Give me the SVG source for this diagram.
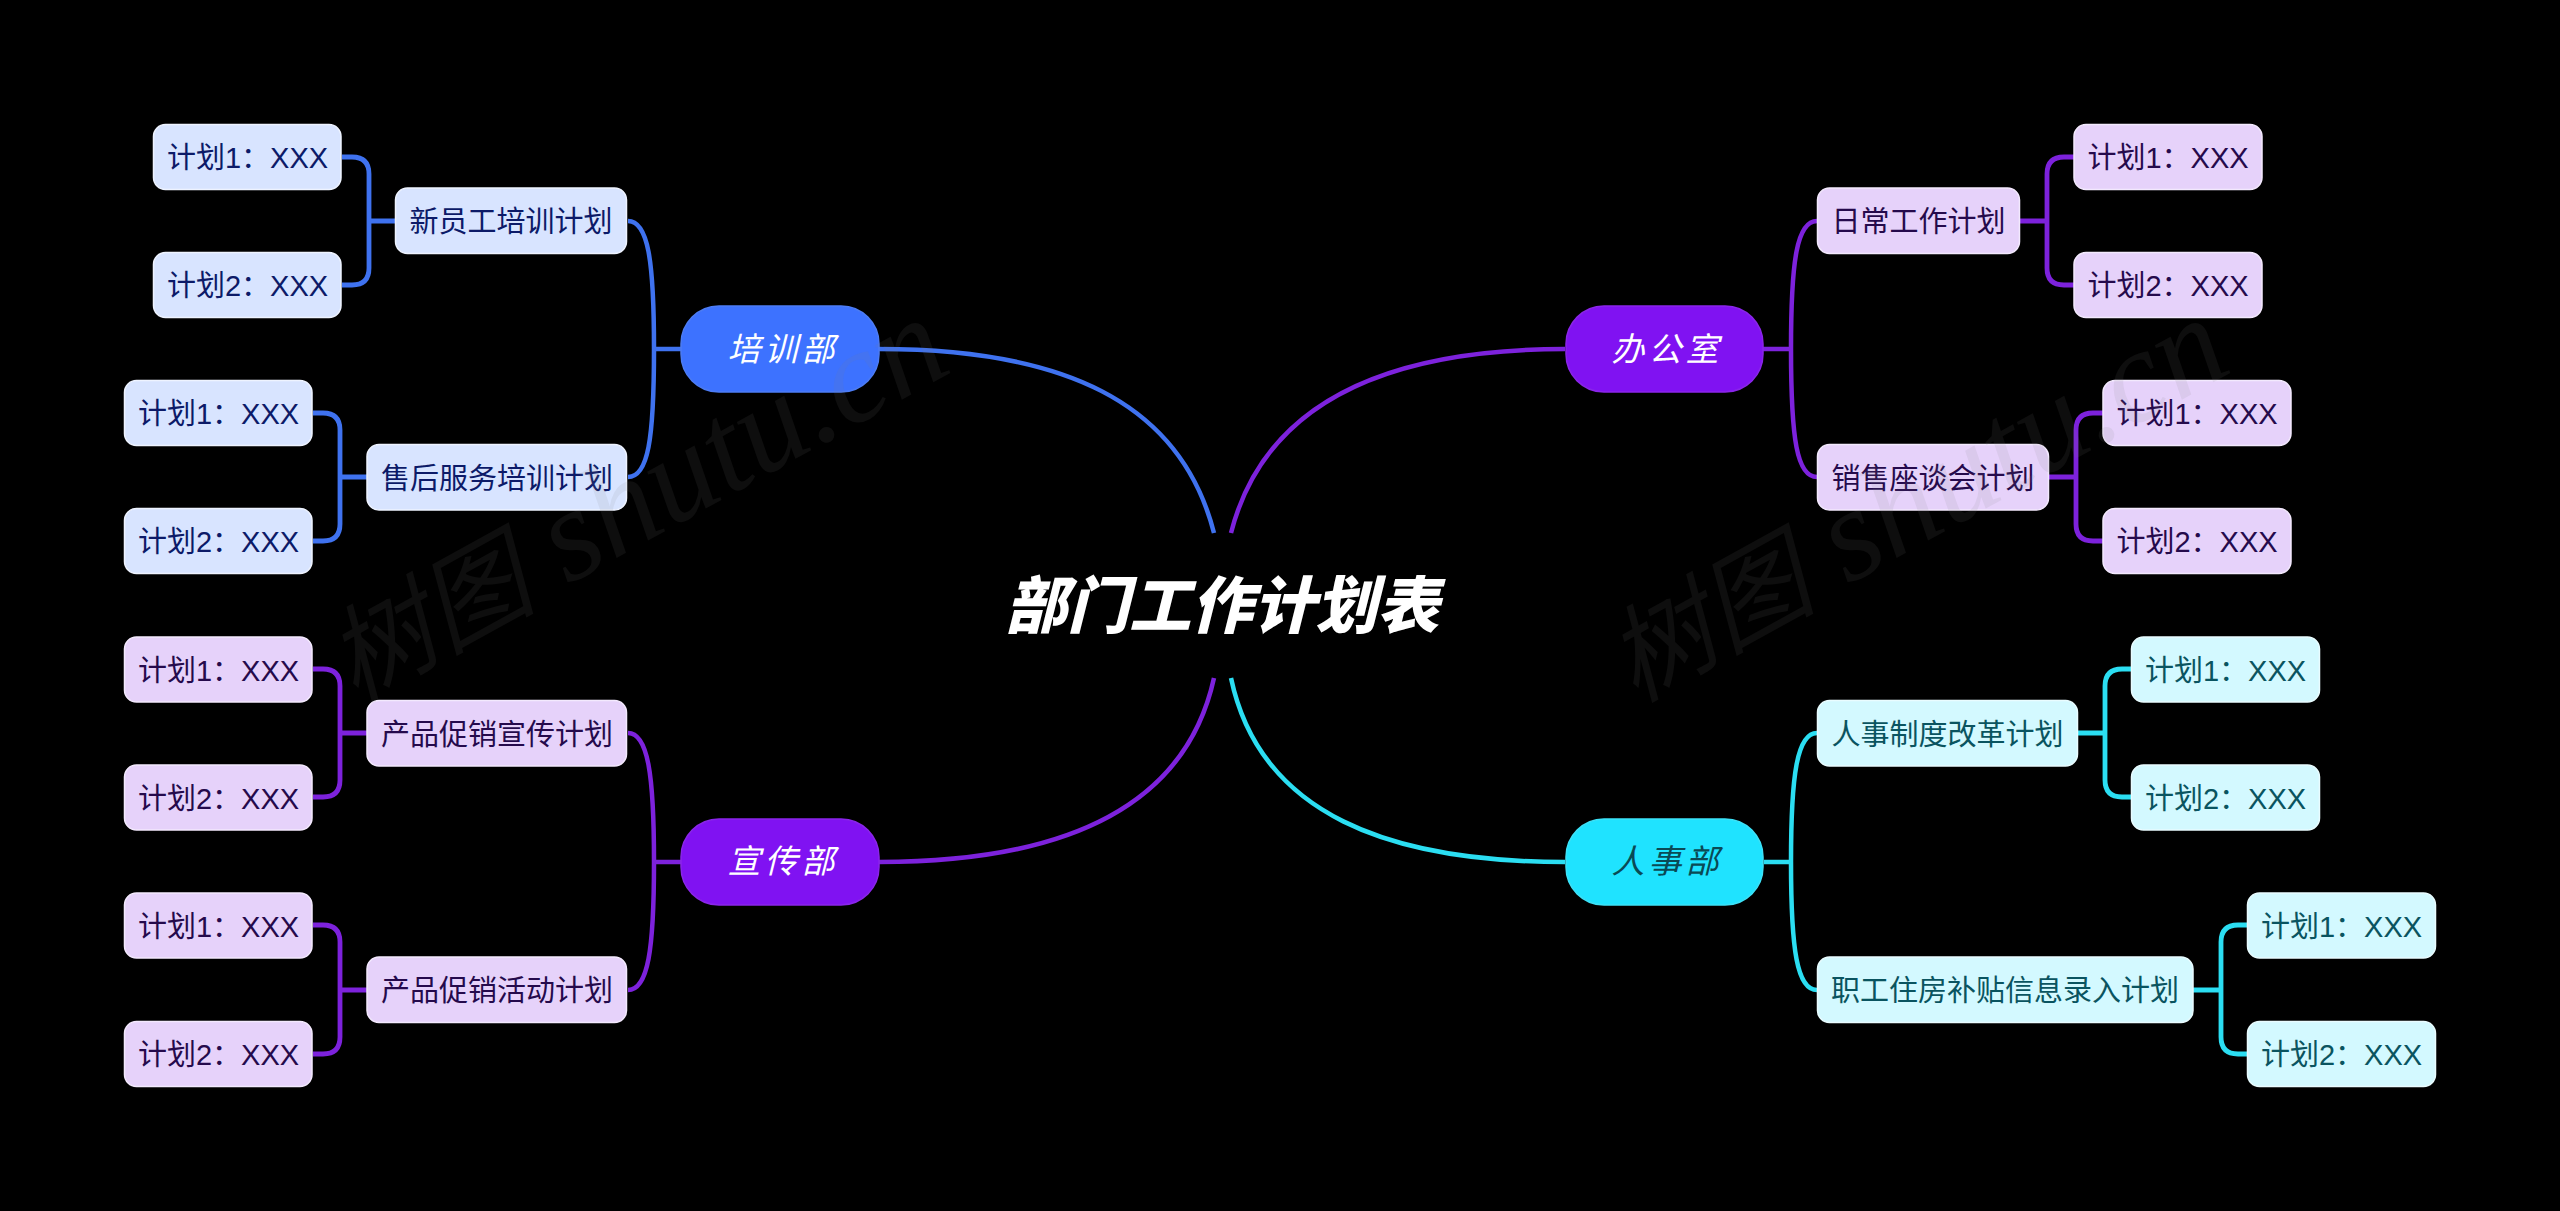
<svg xmlns="http://www.w3.org/2000/svg" width="2560" height="1211" viewBox="0 0 2560 1211">
<style>
text{font-family:"Noto Sans CJK SC","Noto Sans",sans-serif;text-anchor:middle}
.c{fill:none;stroke-width:4.500;stroke-linecap:butt}
.d{stroke-width:4.800}
.cb{stroke:#3f72ef}.cp{stroke:#7d22dc}.cc{stroke:#2bdef2}
.n{stroke-width:1.5}
.t{font-size:29px;font-weight:400;font-family:"Liberation Sans","Noto Sans CJK SC",sans-serif}
.b{font-size:33px;font-style:italic;font-weight:400;letter-spacing:4px}
.lb{fill:#d8e4ff;stroke:#eef3ff}.tb{fill:#0c1a68}
.lp{fill:#e6d2fa;stroke:#f3e9fd}.tp{fill:#250a4c}
.lc{fill:#d3f9ff;stroke:#e9fcff}.tc{fill:#0a5460}
.wm{font-family:"Liberation Serif","Noto Sans CJK SC",serif;font-style:italic;font-size:132px;fill:#808080;fill-opacity:.11;text-anchor:start}
.wm .z{font-size:105px;font-family:"Noto Sans CJK SC",serif}
</style>
<rect width="2560" height="1211" fill="#000"/>
<g id="connectors">
<path class="c cb" d="M879 349C1060 349 1180 400 1214 533"/>
<path class="c cp" d="M1565 349C1390 349 1265 400 1231 533"/>
<path class="c cp" d="M879 862C1060 862 1185 810 1214 678"/>
<path class="c cc" d="M1565 862C1390 862 1260 815 1231 678"/>
<path class="c cb" d="M681 349H654M628 221C648 221 654 260 654 349C654 440 648 477 628 477"/>
<path class="c cp" d="M1763 349H1791M1817 221C1797 221 1791 260 1791 349C1791 440 1797 477 1817 477"/>
<path class="c cp" d="M681 862H654M628 733C648 733 654 775 654 862C654 950 648 990 628 990"/>
<path class="c cc" d="M1764 862H1791M1817 733C1797 733 1791 775 1791 862C1791 950 1797 990 1817 990"/>
<path class="c d cb" d="M395 221H369M342 157H352Q369 157 369 174V268Q369 285 352 285H342"/>
<path class="c d cb" d="M367 477H340M313 413H323Q340 413 340 430V524Q340 541 323 541H313"/>
<path class="c d cp" d="M367 733H340M313 669H323Q340 669 340 686V780Q340 797 323 797H313"/>
<path class="c d cp" d="M367 990H340M313 925H323Q340 925 340 942V1037Q340 1054 323 1054H313"/>
<path class="c d cp" d="M2020 221H2047M2074 157H2064Q2047 157 2047 174V268Q2047 285 2064 285H2074"/>
<path class="c d cp" d="M2049 477H2076M2103 413H2093Q2076 413 2076 430V524Q2076 541 2093 541H2103"/>
<path class="c d cc" d="M2078 733H2105M2131 669H2122Q2105 669 2105 686V780Q2105 797 2122 797H2131"/>
<path class="c d cc" d="M2193 990H2221M2247 925H2238Q2221 925 2221 942V1037Q2221 1054 2238 1054H2247"/>
</g>
<g id="root"><text x="1222" y="628" style="font-size:62px;font-weight:900;font-style:italic" fill="#fff">部门工作计划表</text></g>
<g id="b-peixun"><rect class="n" x="681" y="306" width="198" height="86" rx="38" fill="#3d72ff" stroke="#4c7cf5"/><text class="b" x="783" y="361" fill="#fff">培训部</text></g>
<g id="b-bangong"><rect class="n" x="1566" y="306" width="197" height="86" rx="38" fill="#8012f2" stroke="#8a25ea"/><text class="b" x="1667" y="361" fill="#fff">办公室</text></g>
<g id="b-xuanchuan"><rect class="n" x="681" y="819" width="198" height="86" rx="38" fill="#8012f2" stroke="#8a25ea"/><text class="b" x="783" y="873" fill="#fff">宣传部</text></g>
<g id="b-renshi"><rect class="n" x="1566" y="819" width="197" height="86" rx="38" fill="#1fe3ff" stroke="#3ce2f8"/><text class="b" x="1667" y="873" fill="#0a4a55">人事部</text></g>
<g id="m1"><rect class="n lb" x="395.500" y="188" width="231" height="65.500" rx="12"/><text class="t tb" x="511" y="232">新员工培训计划</text></g>
<g id="m2"><rect class="n lb" x="367" y="444.500" width="259.500" height="65.500" rx="12"/><text class="t tb" x="497" y="489">售后服务培训计划</text></g>
<g id="m3"><rect class="n lp" x="367" y="700.500" width="259.500" height="65.500" rx="12"/><text class="t tp" x="497" y="745">产品促销宣传计划</text></g>
<g id="m4"><rect class="n lp" x="367" y="957" width="259.500" height="65.500" rx="12"/><text class="t tp" x="497" y="1001">产品促销活动计划</text></g>
<g id="m5"><rect class="n lp" x="1817.500" y="188" width="202" height="65.500" rx="12"/><text class="t tp" x="1918.500" y="232">日常工作计划</text></g>
<g id="m6"><rect class="n lp" x="1817.500" y="444.500" width="231" height="65.500" rx="12"/><text class="t tp" x="1933" y="489">销售座谈会计划</text></g>
<g id="m7"><rect class="n lc" x="1817.500" y="700.500" width="260" height="65.500" rx="12"/><text class="t tc" x="1947.500" y="745">人事制度改革计划</text></g>
<g id="m8"><rect class="n lc" x="1817.500" y="957" width="375.500" height="65.500" rx="12"/><text class="t tc" x="2005" y="1001">职工住房补贴信息录入计划</text></g>
<g id="l1"><rect class="n lb" x="153.500" y="124.500" width="187.500" height="65" rx="12"/><text class="t tb" x="247.500" y="168">计划1：XXX</text></g>
<g id="l2"><rect class="n lb" x="153.500" y="252.500" width="187.500" height="65" rx="12"/><text class="t tb" x="247.500" y="296">计划2：XXX</text></g>
<g id="l3"><rect class="n lb" x="124.500" y="380.500" width="187.500" height="65" rx="12"/><text class="t tb" x="218.500" y="424">计划1：XXX</text></g>
<g id="l4"><rect class="n lb" x="124.500" y="508.500" width="187.500" height="65" rx="12"/><text class="t tb" x="218.500" y="552">计划2：XXX</text></g>
<g id="l5"><rect class="n lp" x="124.500" y="637" width="187.500" height="65" rx="12"/><text class="t tp" x="218.500" y="681">计划1：XXX</text></g>
<g id="l6"><rect class="n lp" x="124.500" y="765" width="187.500" height="65" rx="12"/><text class="t tp" x="218.500" y="809">计划2：XXX</text></g>
<g id="l7"><rect class="n lp" x="124.500" y="893" width="187.500" height="65" rx="12"/><text class="t tp" x="218.500" y="937">计划1：XXX</text></g>
<g id="l8"><rect class="n lp" x="124.500" y="1021.500" width="187.500" height="65" rx="12"/><text class="t tp" x="218.500" y="1065">计划2：XXX</text></g>
<g id="l9"><rect class="n lp" x="2074" y="124.500" width="188" height="65" rx="12"/><text class="t tp" x="2168" y="168">计划1：XXX</text></g>
<g id="l10"><rect class="n lp" x="2074" y="252.500" width="188" height="65" rx="12"/><text class="t tp" x="2168" y="296">计划2：XXX</text></g>
<g id="l11"><rect class="n lp" x="2103" y="380.500" width="188" height="65" rx="12"/><text class="t tp" x="2197" y="424">计划1：XXX</text></g>
<g id="l12"><rect class="n lp" x="2103" y="508.500" width="188" height="65" rx="12"/><text class="t tp" x="2197" y="552">计划2：XXX</text></g>
<g id="l13"><rect class="n lc" x="2131.500" y="637" width="188" height="65" rx="12"/><text class="t tc" x="2225.500" y="681">计划1：XXX</text></g>
<g id="l14"><rect class="n lc" x="2131.500" y="765" width="188" height="65" rx="12"/><text class="t tc" x="2225.500" y="809">计划2：XXX</text></g>
<g id="l15"><rect class="n lc" x="2247.500" y="893" width="188" height="65" rx="12"/><text class="t tc" x="2341.500" y="937">计划1：XXX</text></g>
<g id="l16"><rect class="n lc" x="2247.500" y="1021.500" width="188" height="65" rx="12"/><text class="t tc" x="2341.500" y="1065">计划2：XXX</text></g>
<text class="wm" transform="translate(355 703) rotate(-29)"><tspan class="z">树图</tspan> shutu.cn</text>
<text class="wm" transform="translate(1635 703) rotate(-29)"><tspan class="z">树图</tspan> shutu.cn</text>
</svg>
